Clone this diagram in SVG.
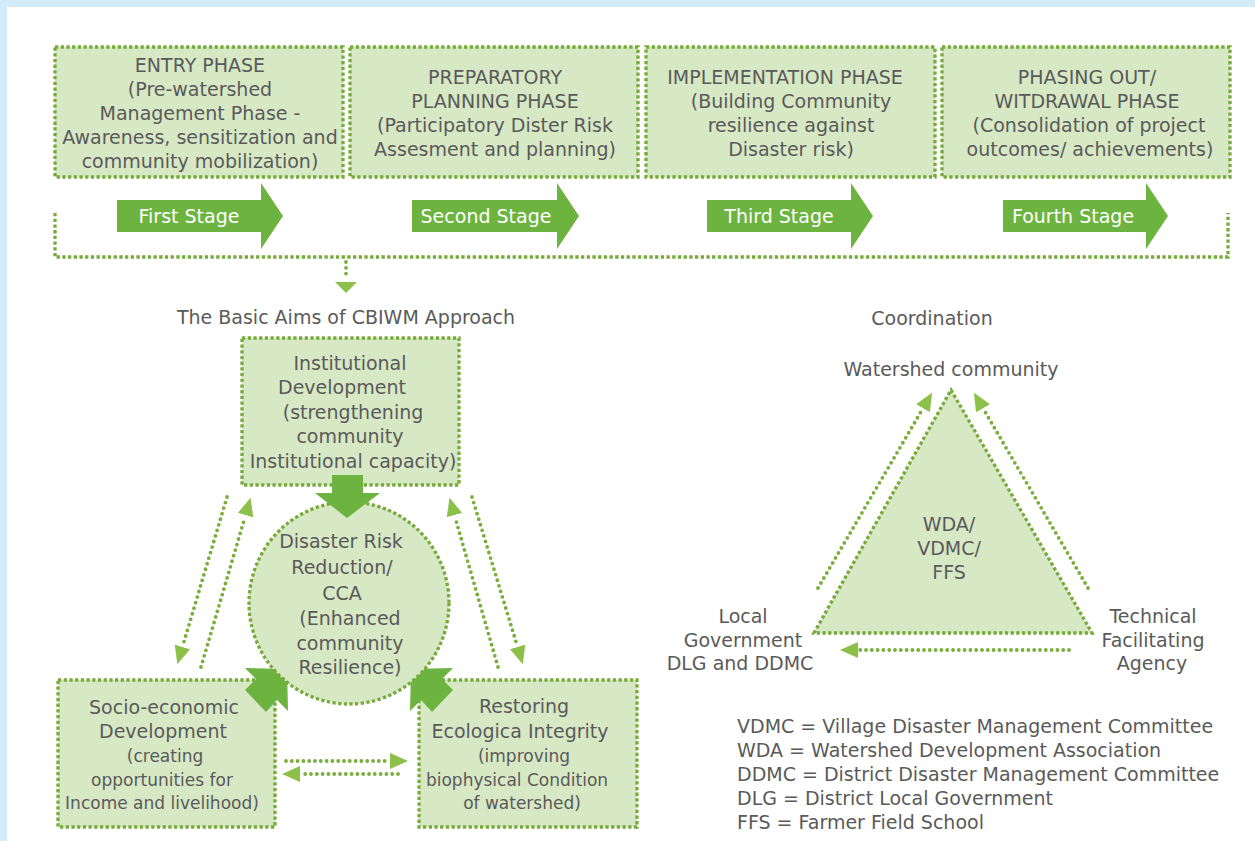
<svg xmlns="http://www.w3.org/2000/svg" width="1255" height="841" viewBox="0 0 1255 841">
<defs>
<style>
.t{font-family:"DejaVu Sans",Verdana,sans-serif;font-size:19px;fill:#5a5a5a;text-anchor:middle}
.s{font-size:17px}
.l{text-anchor:start}
.w{fill:#ffffff}
.box{fill:#d7e8c5;stroke:#77aa3a;stroke-width:3.3;stroke-dasharray:3.3 2.4}
.dot{fill:none;stroke:#77aa3a;stroke-width:3.3;stroke-dasharray:3.3 2.4}
.con{fill:none;stroke:#79ae3a;stroke-width:3.8;stroke-dasharray:0 5.8;stroke-linecap:round}
.big{fill:#6db33f}
</style>
<marker id="ah" markerUnits="userSpaceOnUse" markerWidth="18" markerHeight="16" viewBox="0 0 18 16" refX="-2" refY="8" orient="auto">
<path d="M0,0 L18,8 L0,16 Z" fill="#8cc04a"/>
</marker>
</defs>
<rect x="0" y="0" width="1255" height="841" fill="#ffffff"/>
<rect x="0" y="0" width="1255" height="7" fill="#d4ebf9"/>
<rect x="0" y="0" width="7" height="841" fill="#d4ebf9"/>

<g id="phase1">
<rect class="box" x="55" y="47" width="288" height="130"/>
<text class="t" x="200" y="72">ENTRY PHASE</text>
<text class="t" x="200" y="96">(Pre-watershed</text>
<text class="t" x="200" y="120">Management Phase -</text>
<text class="t" x="200" y="144">Awareness, sensitization and</text>
<text class="t" x="200" y="168">community mobilization)</text>
</g>
<g id="phase2">
<rect class="box" x="350" y="47" width="288" height="130"/>
<text class="t" x="495" y="84">PREPARATORY</text>
<text class="t" x="495" y="108">PLANNING PHASE</text>
<text class="t" x="495" y="132">(Participatory Dister Risk</text>
<text class="t" x="495" y="156">Assesment and planning)</text>
</g>
<g id="phase3">
<rect class="box" x="646" y="47" width="289" height="130"/>
<text class="t" x="785" y="84">IMPLEMENTATION PHASE</text>
<text class="t" x="791" y="108">(Building Community</text>
<text class="t" x="791" y="132">resilience against</text>
<text class="t" x="791" y="156">Disaster risk)</text>
</g>
<g id="phase4">
<rect class="box" x="942" y="47" width="288" height="130"/>
<text class="t" x="1087" y="84">PHASING OUT/</text>
<text class="t" x="1087" y="108">WITDRAWAL PHASE</text>
<text class="t" x="1089" y="132">(Consolidation of project</text>
<text class="t" x="1090" y="156">outcomes/ achievements)</text>
</g>

<g id="stages">
<path class="big" d="M117,200 H261 V183 L283,216 L261,249 V232 H117 Z"/>
<text class="t w" x="189" y="223">First Stage</text>
<path class="big" d="M412,200 H557 V183 L579,216 L557,249 V232 H412 Z"/>
<text class="t w" x="486" y="223">Second Stage</text>
<path class="big" d="M707,200 H851 V183 L873,216 L851,249 V232 H707 Z"/>
<text class="t w" x="779" y="223">Third Stage</text>
<path class="big" d="M1003,200 H1146 V183 L1168,216 L1146,249 V232 H1003 Z"/>
<text class="t w" x="1073" y="223">Fourth Stage</text>
</g>

<g id="title-aims">
<text class="t" x="346" y="324">The Basic Aims of CBIWM Approach</text>
</g>

<g id="socio">
<rect class="box" x="58" y="680" width="217" height="147"/>
<text class="t" x="164" y="714">Socio-economic</text>
<text class="t" x="163" y="738">Development</text>
<text class="t s" x="165" y="762">(creating</text>
<text class="t s" x="162" y="786">opportunities for</text>
<text class="t s" x="162" y="809">Income and livelihood)</text>
</g>
<g id="restoring">
<rect class="box" x="419" y="680" width="218" height="147"/>
<text class="t" x="524" y="713">Restoring</text>
<text class="t" x="520" y="738">Ecologica Integrity</text>
<text class="t s" x="524" y="762">(improving</text>
<text class="t s" x="517" y="786">biophysical Condition</text>
<text class="t s" x="522" y="809">of watershed)</text>
</g>

<g id="institutional">
<rect class="box" x="242" y="338" width="217" height="147"/>
<text class="t" x="350" y="370">Institutional</text>
<text class="t" x="342" y="394">Development</text>
<text class="t" x="353" y="419">(strengthening</text>
<text class="t" x="350" y="443">community</text>
<text class="t" x="353" y="468">Institutional capacity)</text>
</g>

<g id="feed-arrows">
<path class="big" d="M245,668 L287,669 L288,711 L277,700 L266,712 L245,690 L256,679 Z"/>
<path class="big" d="M453,668 L411,669 L410,711 L421,700 L432,712 L453,690 L442,679 Z"/>
</g>

<g id="drr">
<ellipse class="box" cx="349" cy="603" rx="100" ry="101"/>
<text class="t" x="341" y="548">Disaster Risk</text>
<text class="t" x="342" y="574">Reduction/</text>
<text class="t" x="342" y="600">CCA</text>
<text class="t" x="350" y="625">(Enhanced</text>
<text class="t" x="350" y="650">community</text>
<text class="t" x="350" y="674">Resilience)</text>
</g>

<g id="down-arrow">
<path class="big" d="M332,475 H363 V493 H380 L347,518 L315,493 H332 Z"/>
</g>

<g id="coordination">
<text class="t" x="932" y="325">Coordination</text>
<text class="t" x="951" y="376">Watershed community</text>
</g>
<g id="wda">
<path class="box" d="M951,390 L1092,633 L814,633 Z"/>
<text class="t" x="949" y="531">WDA/</text>
<text class="t" x="949" y="555">VDMC/</text>
<text class="t" x="949" y="579">FFS</text>
</g>
<g id="local-gov">
<text class="t" x="743" y="623">Local</text>
<text class="t" x="743" y="647">Government</text>
<text class="t" x="740" y="670">DLG and DDMC</text>
</g>
<g id="technical">
<text class="t" x="1153" y="623">Technical</text>
<text class="t" x="1153" y="647">Facilitating</text>
<text class="t" x="1152" y="670">Agency</text>
</g>

<g id="legend">
<text class="t l" x="737" y="733">VDMC = Village Disaster Management Committee</text>
<text class="t l" x="737" y="757">WDA = Watershed Development Association</text>
<text class="t l" x="737" y="781">DDMC = District Disaster Management Committee</text>
<text class="t l" x="737" y="805">DLG = District Local Government</text>
<text class="t l" x="737" y="829">FFS = Farmer Field School</text>
</g>

<g id="connectors">
<path class="dot" d="M55,213 V257 H1228 V213"/>
<line class="con" x1="346" y1="262" x2="346" y2="279"/>
<path d="M335,282 L357,282 L346,293 Z" fill="#8cc04a"/>
<line class="con" x1="227" y1="497" x2="183" y2="645" marker-end="url(#ah)"/>
<line class="con" x1="201" y1="667" x2="245" y2="517" marker-end="url(#ah)"/>
<line class="con" x1="498" y1="667" x2="455" y2="517" marker-end="url(#ah)"/>
<line class="con" x1="472" y1="497" x2="517" y2="645" marker-end="url(#ah)"/>
<line class="con" x1="286" y1="761" x2="388" y2="761" marker-end="url(#ah)"/>
<line class="con" x1="398" y1="774" x2="302" y2="774" marker-end="url(#ah)"/>
<line class="con" x1="818" y1="588" x2="922" y2="410" marker-end="url(#ah)"/>
<line class="con" x1="1088" y1="588" x2="984" y2="410" marker-end="url(#ah)"/>
<line class="con" x1="1069" y1="650" x2="860" y2="650" marker-end="url(#ah)"/>
</g>
</svg>
